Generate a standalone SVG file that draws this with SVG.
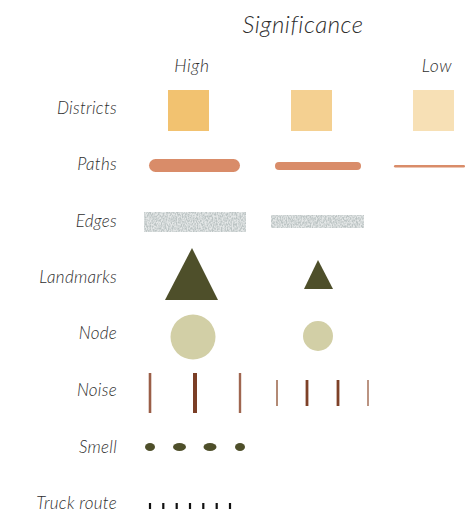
<svg xmlns="http://www.w3.org/2000/svg" width="465" height="515" viewBox="0 0 465 515">
<style>
text{font-family:Lato,"Open Sans","Liberation Sans",sans-serif;font-style:italic;font-weight:300;fill:#2e2e2e}
.lbl{font-size:17px;text-anchor:end;letter-spacing:0.3px}
.hdr{font-size:17.5px;letter-spacing:0.6px}
.tri{fill:#4E4F2A}
.node{fill:#D2CFA6}
.smell{fill:#4E4F2A}
.truck{stroke:#111;stroke-width:2.2}
.edgebase{fill:#e4e7e7}
.edgetex{fill:#000;filter:url(#noiseTex)}
</style>
<defs>
<filter id="noiseTex" x="0" y="0" width="1" height="1">
<feTurbulence type="fractalNoise" baseFrequency="0.8 0.5" numOctaves="2" seed="4" result="n"/>
<feColorMatrix in="n" type="matrix" values="0 0 0 0 0.5  0 0 0 0 0.55  0 0 0 0 0.55  3 0 0 0 -1.05" result="c"/>
<feComposite in="c" in2="SourceGraphic" operator="in"/>
</filter>
</defs>
<text x="303" y="33" style="font-size:24px;letter-spacing:0.5px" text-anchor="middle">Significance</text>
<text class="hdr" x="192" y="72" text-anchor="middle">High</text>
<text class="hdr" x="437" y="72" text-anchor="middle">Low</text>

<g id="row-districts">
<text class="lbl" x="117" y="114">Districts</text>
<rect x="168" y="90" width="41" height="41" fill="#F2C270"/>
<rect x="291" y="90" width="41" height="41" fill="#F4D091"/>
<rect x="413" y="90" width="41" height="41" fill="#F7E0B5"/>
</g>
<g id="row-paths">
<text class="lbl" x="117" y="170">Paths</text>
<rect x="149" y="159" width="91" height="13" rx="6.5" fill="#D98C69"/>
<rect x="275" y="162" width="86" height="8" rx="4" fill="#D98C69"/>
<rect x="394" y="165" width="71" height="2.4" rx="1.2" fill="#D98C69"/>
</g>
<g id="row-edges">
<text class="lbl" x="117" y="227">Edges</text>
<rect class="edgebase" x="144" y="212" width="102" height="20"/>
<rect class="edgetex" x="144" y="212" width="102" height="20"/>
<rect class="edgebase" x="271" y="215" width="93" height="13"/>
<rect class="edgetex" x="271" y="215" width="93" height="13"/>
</g>
<g id="row-landmarks">
<text class="lbl" x="117" y="283">Landmarks</text>
<polygon class="tri" points="192,248 218,300 165,300"/>
<polygon class="tri" points="318,260 333,289 304,289"/>
</g>
<g id="row-node">
<text class="lbl" x="117" y="339">Node</text>
<circle class="node" cx="193" cy="337" r="22.5"/>
<circle class="node" cx="318" cy="336" r="15"/>
</g>
<g id="row-noise">
<text class="lbl" x="117" y="396">Noise</text>
<line x1="150" y1="373" x2="150" y2="413" stroke="#9A5E47" stroke-width="2.6"/>
<line x1="195" y1="373" x2="195" y2="413" stroke="#7B3E26" stroke-width="4"/>
<line x1="240" y1="373" x2="240" y2="413" stroke="#9F6650" stroke-width="2.4"/>
<line x1="277" y1="380" x2="277" y2="406" stroke="#B38A75" stroke-width="2"/>
<line x1="307" y1="380" x2="307" y2="406" stroke="#7E4128" stroke-width="2.8"/>
<line x1="338" y1="380" x2="338" y2="406" stroke="#7E4128" stroke-width="2.8"/>
<line x1="368" y1="380" x2="368" y2="406" stroke="#BB9482" stroke-width="2"/>
</g>
<g id="row-smell">
<text class="lbl" x="117" y="453">Smell</text>
<ellipse class="smell" cx="150" cy="447" rx="5" ry="4"/>
<ellipse class="smell" cx="179.5" cy="447" rx="6.5" ry="4"/>
<ellipse class="smell" cx="210" cy="447" rx="6.5" ry="4"/>
<ellipse class="smell" cx="240" cy="447" rx="5" ry="4"/>
</g>
<g id="row-truck">
<text class="lbl" x="117" y="509">Truck route</text>
<path class="truck" d="M150 503V509M163.3 503V509M176.7 503V509M190 503V509M203.3 503V509M216.7 503V509M230 503V509"/>
</g>
</svg>
